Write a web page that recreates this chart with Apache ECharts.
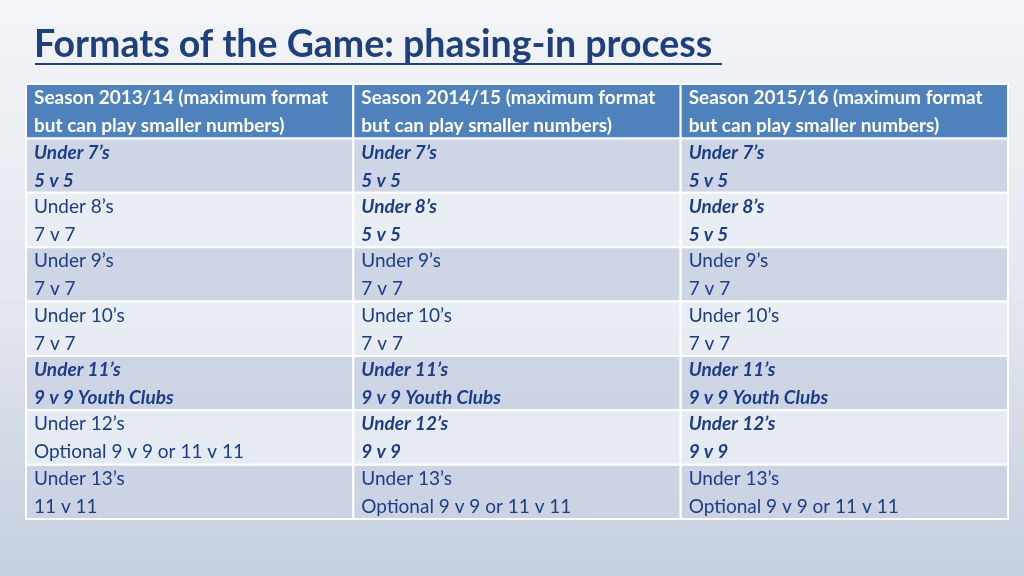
<!DOCTYPE html>
<html>
<head>
<meta charset="utf-8">
<script src="https://cdn.jsdelivr.net/npm/echarts@6/dist/echarts.min.js"></script>
<style>
html,body{margin:0;padding:0;}
#main{width:1024px;height:576px;}
</style>
</head>
<body>
<div id="main"></div>
<script>
// ---- data ----
var titleText = 'Formats of the Game: phasing-in process';
var seasons = [
  'Season 2013/14 (maximum format|but can play smaller numbers)',
  'Season 2014/15 (maximum format|but can play smaller numbers)',
  'Season 2015/16 (maximum format|but can play smaller numbers)'
];
var ageGroups = ['Under 7’s', 'Under 8’s', 'Under 9’s', 'Under 10’s', 'Under 11’s', 'Under 12’s', 'Under 13’s'];
var formats2013 = ['5 v 5', '7 v 7', '7 v 7', '7 v 7', '9 v 9 Youth Clubs', 'Optional 9 v 9 or 11 v 11', '11 v 11'];
var formats2014 = ['5 v 5', '5 v 5', '7 v 7', '7 v 7', '9 v 9 Youth Clubs', '9 v 9', 'Optional 9 v 9 or 11 v 11'];
var formats2015 = ['5 v 5', '5 v 5', '7 v 7', '7 v 7', '9 v 9 Youth Clubs', '9 v 9', 'Optional 9 v 9 or 11 v 11'];
var changed2013 = [1, 0, 0, 0, 1, 0, 0];
var changed2014 = [1, 1, 0, 0, 1, 1, 0];
var changed2015 = [1, 1, 0, 0, 1, 1, 0];

// ---- build cells ----
var rowCats = ['header'].concat(ageGroups);
var colCats = seasons.map(function (s, i) { return 'c' + i; });
var formatsBySeason = [formats2013, formats2014, formats2015];
var changedBySeason = [changed2013, changed2014, changed2015];
var cells = [];
seasons.forEach(function (s, c) {
  var parts = s.split('|');
  cells.push([c, 0, parts[0], parts[1], 2]);
  ageGroups.forEach(function (a, r) {
    cells.push([c, r + 1, a, formatsBySeason[c][r], changedBySeason[c][r]]);
  });
});

var FONT = 'Lato, "Open Sans", sans-serif';
var chart = echarts.init(document.getElementById('main'));
chart.setOption({
  backgroundColor: {
    type: 'linear', x: 0, y: 0, x2: 0, y2: 1,
    colorStops: [
      { offset: 0, color: '#f3f4f7' },
      { offset: 0.5, color: '#e4e8ef' },
      { offset: 1, color: '#c5cfde' }
    ]
  },
  title: {
    text: titleText,
    left: 29, top: 21,
    textStyle: { fontFamily: FONT, fontSize: 37.5, fontWeight: 'bold', color: '#1f3f7f' }
  },
  graphic: [{
    type: 'line', shape: { x1: 35, y1: 64, x2: 722, y2: 64 },
    style: { stroke: '#1f3f7f', lineWidth: 2 }
  }],
  grid: { left: 26, right: 16, top: 84, bottom: 57 },
  xAxis: { type: 'category', data: colCats, show: false },
  yAxis: { type: 'category', data: rowCats, inverse: true, show: false },
  series: [{
    type: 'custom',
    data: cells,
    renderItem: function (params, api) {
      var c = api.value(0), r = api.value(1);
      var center = api.coord([c, r]);
      var size = api.size([1, 1]);
      var x = center[0] - size[0] / 2, y = center[1] - size[1] / 2;
      var kind = api.value(4);
      var fill, txtFill, weight, style;
      if (kind === 2) {
        fill = '#4f81bd'; txtFill = '#ffffff'; weight = 'bold'; style = 'normal';
      } else {
        fill = (r % 2 === 1) ? 'rgba(203,211,227,0.9)' : 'rgba(233,237,244,0.85)';
        txtFill = '#1d3d88';
        weight = kind === 1 ? 'bold' : 'normal';
        style = kind === 1 ? 'italic' : 'normal';
      }
      var d = cells[params.dataIndex];
      return {
        type: 'group',
        children: [{
          type: 'rect',
          shape: { x: x, y: y, width: size[0], height: size[1] },
          style: { fill: fill, stroke: '#ffffff', lineWidth: 2 }
        }, {
          type: 'text',
          style: {
            x: x + 8, y: y + 0,
            text: d[2] + '\n' + d[3],
            fill: txtFill,
            font: style + ' ' + weight + ' 19px ' + FONT,
            lineHeight: 28,
            verticalAlign: 'top'
          }
        }]
      };
    }
  }]
});
</script>
</body>
</html>
